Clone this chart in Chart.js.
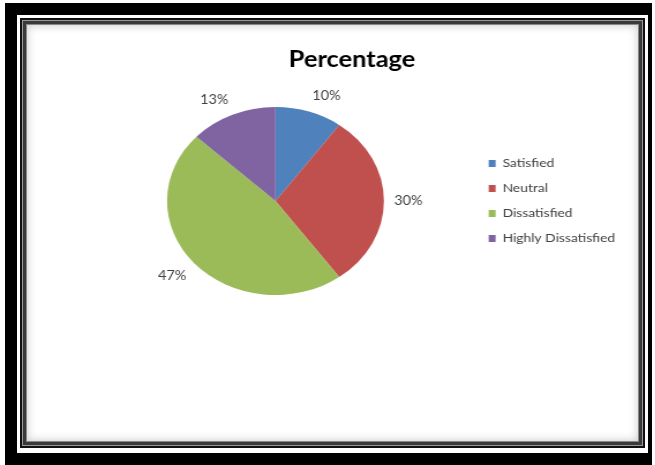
<!DOCTYPE html>
<html>
<head>
<meta charset="utf-8">
<script src="https://cdn.jsdelivr.net/npm/chart.js@4"></script>
<style>
  html, body { margin: 0; padding: 0; background: #fff; width: 655px; height: 465px; overflow: hidden; }
  .outer {
    position: absolute; left: 5px; top: 3px; width: 647px; height: 462px;
    box-sizing: border-box; border: 12px solid #000; border-right-width: 4px;
  }
  .frame {
    position: absolute; left: 20px; top: 18px; width: 625px; height: 430px;
    box-sizing: border-box; border: 2px solid #111;
    box-shadow: inset 0 0 0 1px #999, inset 0 0 0 4px #3a3a3a, inset 0 0 0 5px #888,
                inset 0 0 9px 6px rgba(0,0,0,0.18);
  }
  /* the reference picture is stretched sideways, so stretch the canvas too */
  #myChart { position: absolute; left: 0; top: 0; transform: scaleX(1.1535); transform-origin: 0 0; }
</style>
</head>
<body>
<div class="outer"></div>
<div class="frame"></div>
<canvas id="myChart" width="568" height="465"></canvas>
<script>
// --- Chart data ---
const categories = ['Satisfied', 'Neutral', 'Dissatisfied', 'Highly Dissatisfied'];
const percentages = [10, 30, 47, 13];
const sliceColors = ['#4F81BD', '#C0504D', '#9BBB59', '#8064A2'];

// Excel-style "outside end" labels: the label's nearest corner sits just past the rim
const outsideLabels = {
    id: 'outsideLabels',
    afterDatasetsDraw(chart) {
        const ctx = chart.ctx;
        const meta = chart.getDatasetMeta(0);
        ctx.save();
        ctx.font = '12.5px Lato, "Open Sans", sans-serif';
        ctx.fillStyle = '#404040';
        ctx.textAlign = 'center';
        ctx.textBaseline = 'middle';
        meta.data.forEach((arc, i) => {
            const p = arc.getProps(['x', 'y', 'startAngle', 'endAngle', 'outerRadius'], true);
            const mid = (p.startAngle + p.endAngle) / 2;
            const text = percentages[i] + '%';
            const w = ctx.measureText(text).width;
            const h = 14;
            const r = p.outerRadius + 9;
            const c = Math.cos(mid), s = Math.sin(mid);
            const sx = Math.abs(c) < 0.1 ? 0 : Math.sign(c);
            const sy = Math.abs(s) < 0.1 ? 0 : Math.sign(s);
            ctx.fillText(text, p.x + c * r + sx * w / 2, p.y + s * r + sy * h / 2);
        });
        ctx.restore();
    }
};

const ctx = document.getElementById('myChart').getContext('2d');
new Chart(ctx, {
    type: 'pie',
    data: {
        labels: categories,
        datasets: [{
            data: percentages,
            backgroundColor: sliceColors,
            borderWidth: 0
        }]
    },
    options: {
        responsive: false,
        animation: false,
        layout: { padding: { left: 67, right: 24.7, top: 20, bottom: 170 } },
        plugins: {
            title: {
                display: true,
                text: 'Percentage',
                color: '#000',
                font: { family: 'Lato, "Open Sans", sans-serif', size: 22, weight: 'bold' },
                padding: { top: 26.8, bottom: 33.8 }
            },
            legend: {
                position: 'right',
                align: 'center',
                fullSize: false,
                labels: {
                    boxWidth: 6,
                    boxHeight: 7,
                    padding: 13,
                    color: '#404040',
                    font: { family: 'Lato, "Open Sans", sans-serif', size: 12 }
                }
            },
            tooltip: { enabled: false }
        }
    },
    plugins: [outsideLabels]
});
</script>
</body>
</html>
